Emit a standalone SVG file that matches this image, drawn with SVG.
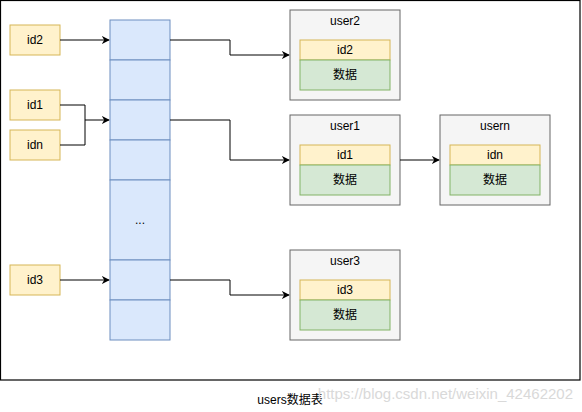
<svg xmlns="http://www.w3.org/2000/svg" width="582" height="412" viewBox="0 0 582 412">
<defs>
<marker id="ah" viewBox="0 0 10 10" refX="9" refY="5" markerWidth="8" markerHeight="8" markerUnits="userSpaceOnUse" orient="auto">
<path d="M0,0 L10,5 L0,10 L3,5 Z" fill="#000"/>
</marker>
<style>
text{font-family:"Liberation Sans","Noto Sans CJK SC",sans-serif;font-size:12px;fill:#000;text-anchor:middle;dominant-baseline:central}
.key{fill:#fff2cc;stroke:#d6b656;stroke-width:1}
.slot{fill:#dae8fc;stroke:#6c8ebf;stroke-width:1}
.user{fill:#f5f5f5;stroke:#666;stroke-width:1}
.data{fill:#d5e8d4;stroke:#82b366;stroke-width:1}
.conn{fill:none;stroke:#000;stroke-width:1;marker-end:url(#ah)}
.line{fill:none;stroke:#000;stroke-width:1}
</style>
</defs>
<rect x="0" y="0" width="582" height="412" fill="#fff"/>
<rect x="0.5" y="0.5" width="579.5" height="379.5" fill="#fff" stroke="#000" stroke-width="1.2"/>

<g id="id2"><rect class="key" x="10" y="25" width="50" height="30"/><text x="35" y="40">id2</text></g>
<g id="id1"><rect class="key" x="10" y="90" width="50" height="30"/><text x="35" y="105">id1</text></g>
<g id="idn"><rect class="key" x="10" y="130" width="50" height="30"/><text x="35" y="145">idn</text></g>
<g id="id3"><rect class="key" x="10" y="265" width="50" height="30"/><text x="35" y="280">id3</text></g>

<g id="table">
<rect class="slot" x="110" y="20" width="60" height="40"/>
<rect class="slot" x="110" y="60" width="60" height="40"/>
<rect class="slot" x="110" y="100" width="60" height="40"/>
<rect class="slot" x="110" y="140" width="60" height="40"/>
<rect class="slot" x="110" y="180" width="60" height="80"/>
<text x="140" y="220">...</text>
<rect class="slot" x="110" y="260" width="60" height="40"/>
<rect class="slot" x="110" y="300" width="60" height="40"/>
</g>

<g id="user2">
<rect class="user" x="290" y="10" width="110" height="90"/>
<text x="345" y="21">user2</text>
<rect class="key" x="300" y="40" width="90" height="20"/><text x="345" y="50">id2</text>
<rect class="data" x="300" y="60" width="90" height="30"/><text x="345" y="75">数据</text>
</g>
<g id="user1">
<rect class="user" x="290" y="115" width="110" height="90"/>
<text x="345" y="126">user1</text>
<rect class="key" x="300" y="145" width="90" height="20"/><text x="345" y="155">id1</text>
<rect class="data" x="300" y="165" width="90" height="30"/><text x="345" y="180">数据</text>
</g>
<g id="usern">
<rect class="user" x="440" y="115" width="110" height="90"/>
<text x="495" y="126">usern</text>
<rect class="key" x="450" y="145" width="90" height="20"/><text x="495" y="155">idn</text>
<rect class="data" x="450" y="165" width="90" height="30"/><text x="495" y="180">数据</text>
</g>
<g id="user3">
<rect class="user" x="290" y="250" width="110" height="90"/>
<text x="345" y="261">user3</text>
<rect class="key" x="300" y="280" width="90" height="20"/><text x="345" y="290">id3</text>
<rect class="data" x="300" y="300" width="90" height="30"/><text x="345" y="315">数据</text>
</g>

<g id="connectors">
<path class="conn" d="M60,40 L109,40"/>
<path class="line" d="M60,105 L85,105 L85,145 L60,145"/>
<path class="conn" d="M85,120 L109,120"/>
<path class="conn" d="M60,280 L109,280"/>
<path class="conn" d="M170,40 L230,40 L230,55 L289,55"/>
<path class="conn" d="M170,120 L230,120 L230,160 L289,160"/>
<path class="conn" d="M170,280 L230,280 L230,295 L289,295"/>
<path class="conn" d="M400,160 L439,160"/>
</g>

<text x="290" y="400">users数据表</text>
<text x="573" y="393" style="text-anchor:end;font-size:15px;fill:#d9d9d9">https://blog.csdn.net/weixin_42462202</text>
</svg>
